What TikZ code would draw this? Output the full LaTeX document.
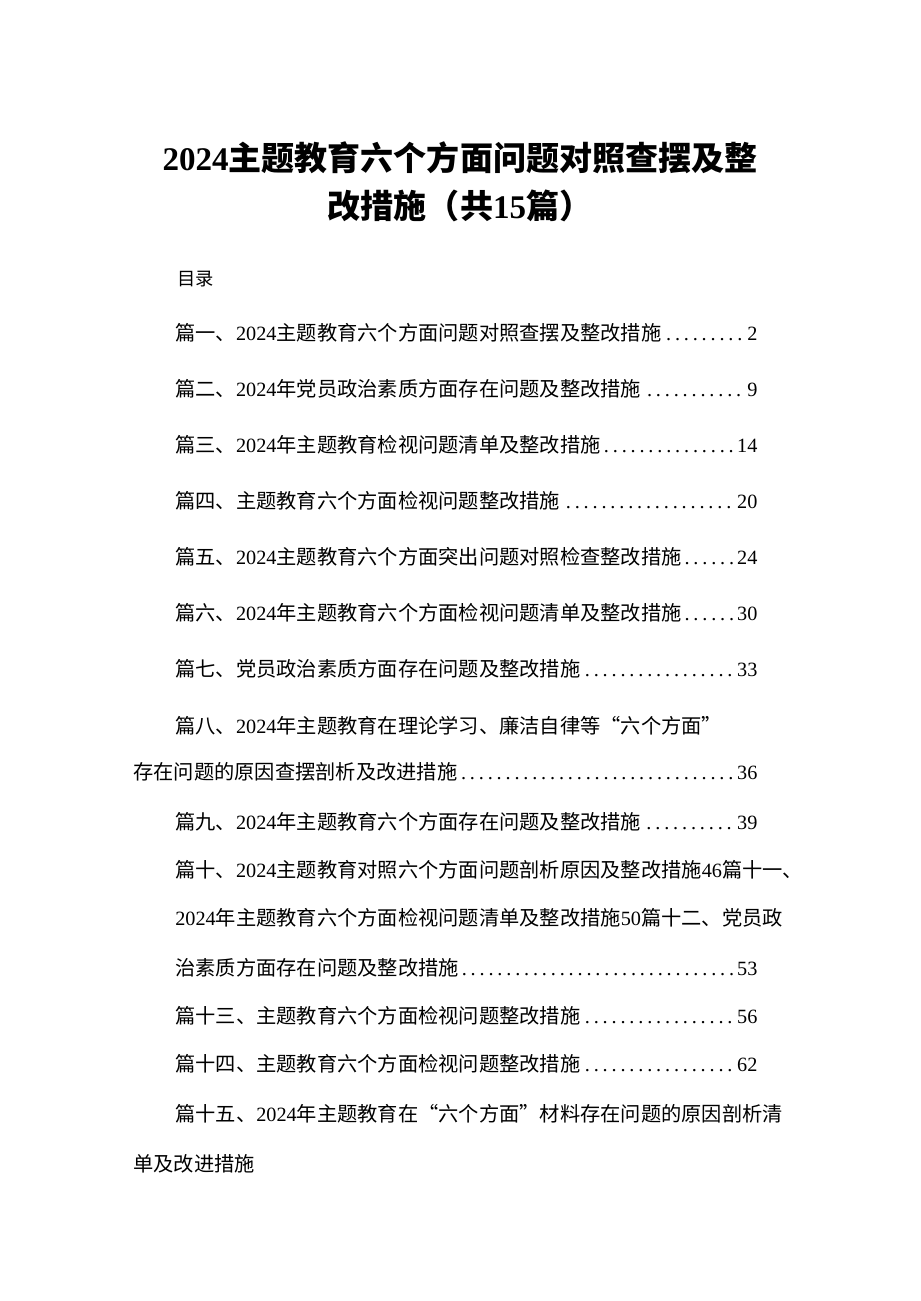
\documentclass[tikz,border=0pt]{standalone}
\usepackage{fontspec}
\setmainfont{Noto Sans CJK SC}
\newfontfamily\numfont{Liberation Serif}
\newcommand{\nm}[1]{{\numfont #1}}
\usetikzlibrary{positioning}
\tikzset{
  entry/.style={anchor=base west, inner sep=0pt, font=\fontsize{14.4pt}{16pt}\selectfont},
  titleline/.style={anchor=base, inner sep=0pt, font=\fontsize{23.5pt}{26pt}\selectfont\bfseries}
}
\newcommand{\tocline}[2]{\hbox to 14.55cm{#1{\numfont\dotfill}\nm{#2}}}
\begin{document}
\begin{tikzpicture}[x=0.025cm,y=-0.025cm]
  \useasboundingbox[fill=white] (0,0) rectangle (920,1301);
  % title
  \node[titleline] (title1) at (460,170) {\nm{\textbf{2024}}主题教育六个方面问题对照查摆及整};
  \node[titleline] (title2) at (460,218) {改措施（共\nm{\textbf{15}}篇）};
  \node[entry, font=\fontsize{13pt}{15pt}\selectfont] (mulu) at (177,285) {目录};
  % entries
  \node[entry] (p1) at (175,340) {\tocline{篇一、\nm{2024}主题教育六个方面问题对照查摆及整改措施}{2}};
  \node[entry] (p2) at (175,396) {\tocline{篇二、\nm{2024}年党员政治素质方面存在问题及整改措施}{9}};
  \node[entry] (p3) at (175,452) {\tocline{篇三、\nm{2024}年主题教育检视问题清单及整改措施}{14}};
  \node[entry] (p4) at (175,508) {\tocline{篇四、主题教育六个方面检视问题整改措施}{20}};
  \node[entry] (p5) at (175,564) {\tocline{篇五、\nm{2024}主题教育六个方面突出问题对照检查整改措施}{24}};
  \node[entry] (p6) at (175,620) {\tocline{篇六、\nm{2024}年主题教育六个方面检视问题清单及整改措施}{30}};
  \node[entry] (p7) at (175,676) {\tocline{篇七、党员政治素质方面存在问题及整改措施}{33}};
  \node[entry] (p8) at (175,733) {篇八、\nm{2024}年主题教育在理论学习、廉洁自律等“六个方面”};
  \node[entry] (p8b) at (133,779) {\hbox to 15.6cm{存在问题的原因查摆剖析及改进措施{\numfont\dotfill}\nm{36}}};
  \node[entry] (p9) at (175,829) {\tocline{篇九、\nm{2024}年主题教育六个方面存在问题及整改措施}{39}};
  \node[entry] (p10) at (175,877) {篇十、\nm{2024}主题教育对照六个方面问题剖析原因及整改措施\nm{46}篇十一、};
  \node[entry] (p11) at (175,925) {\nm{2024}年主题教育六个方面检视问题清单及整改措施\nm{50}篇十二、党员政};
  \node[entry] (p12) at (175,975) {\tocline{治素质方面存在问题及整改措施}{53}};
  \node[entry] (p13) at (175,1023) {\tocline{篇十三、主题教育六个方面检视问题整改措施}{56}};
  \node[entry] (p14) at (175,1071) {\tocline{篇十四、主题教育六个方面检视问题整改措施}{62}};
  \node[entry] (p15) at (175,1121) {篇十五、\nm{2024}年主题教育在“六个方面”材料存在问题的原因剖析清};
  \node[entry] (p15b) at (133,1171) {单及改进措施};
\end{tikzpicture}
\end{document}
